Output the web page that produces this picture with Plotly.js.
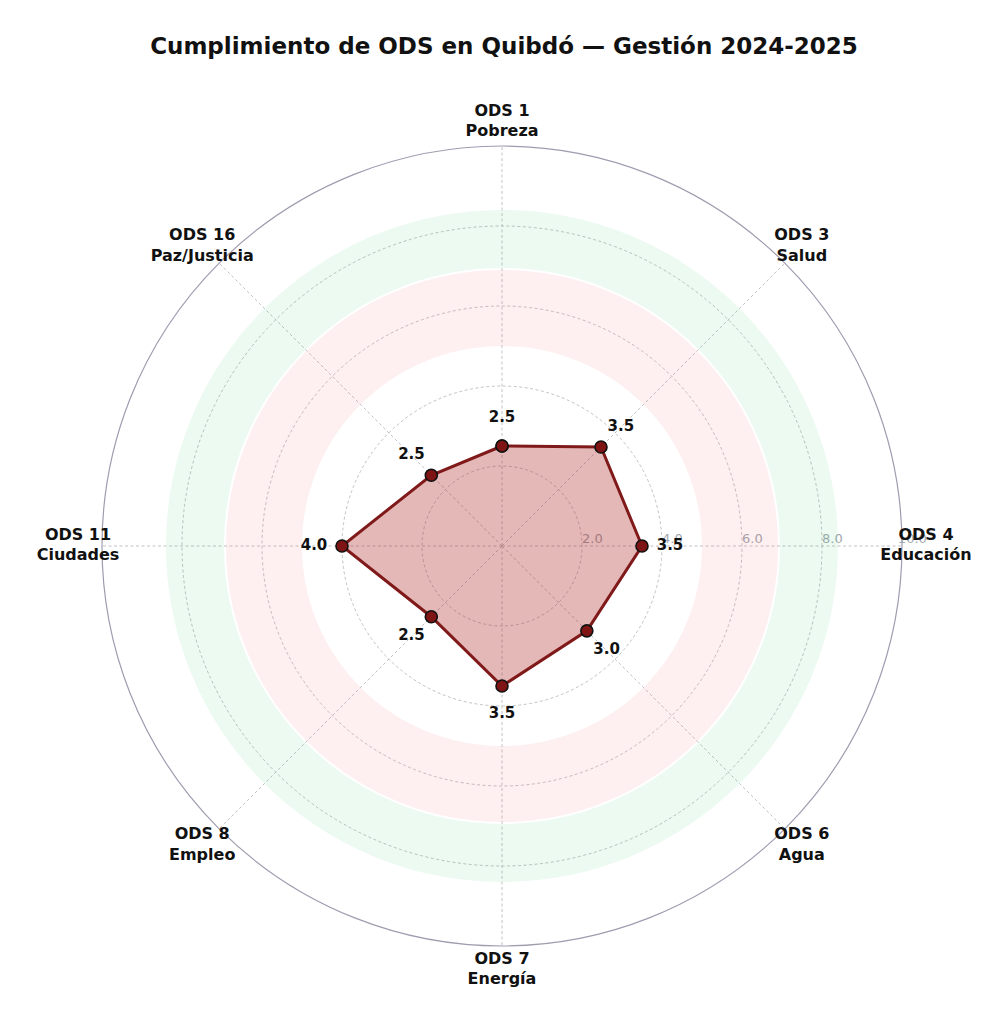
<!DOCTYPE html>
<html>
<head>
<meta charset="utf-8">
<script src="https://cdn.plot.ly/plotly-3.0.1.min.js"></script>
<style>html,body{margin:0;padding:0;background:#fff;}#chart{width:1008px;height:1024px;}</style>
</head>
<body>
<div id="chart"></div>
<script>
// ---- data ----
const categories = ['ODS 1', 'ODS 3', 'ODS 4', 'ODS 6', 'ODS 7', 'ODS 8', 'ODS 11', 'ODS 16'];
const categoryNames = ['Pobreza', 'Salud', 'Educación', 'Agua', 'Energía', 'Empleo', 'Ciudades', 'Paz/Justicia'];
const scores = [2.5, 3.5, 3.5, 3.0, 3.5, 2.5, 4.0, 2.5];
const pinkBand = [5.0, 6.9];     // inner, outer
const greenBand = [6.95, 8.4];   // inner, outer
const radialTicks = [2, 4, 6, 8, 10];
const titleText = 'Cumplimiento de ODS en Quibdó — Gestión 2024-2025';

// ---- layout constants ----
const FONT = 'DejaVu Sans, Verdana, sans-serif';
const W = 1008, H = 1024;
const CX = 502, CY = 546, PX_PER_UNIT = 40;
const R_MAX = 10, LABEL_RANGE = 11;
const labelOffset = 0.7;
const catLabelR = 10.6;
const NB = '\u00a0';

function domainFor(rangeMax) {
  const rad = rangeMax * PX_PER_UNIT;
  return {
    x: [(CX - rad) / W, (CX + rad) / W],
    y: [(H - CY - rad) / H, (H - CY + rad) / H]
  };
}

const closedCats = categories.concat([categories[0]]);
const closedScores = scores.concat([scores[0]]);

const traces = [
  {
    type: 'barpolar',
    theta: categories,
    base: categories.map(() => pinkBand[0]),
    r: categories.map(() => pinkBand[1] - pinkBand[0]),
    marker: {color: 'rgba(240,90,90,0.09)', line: {width: 0}},
    hoverinfo: 'skip', showlegend: false
  },
  {
    type: 'barpolar',
    theta: categories,
    base: categories.map(() => greenBand[0]),
    r: categories.map(() => greenBand[1] - greenBand[0]),
    marker: {color: 'rgba(40,200,100,0.09)', line: {width: 0}},
    hoverinfo: 'skip', showlegend: false
  },
  {
    type: 'scatterpolar',
    theta: closedCats,
    r: closedScores,
    mode: 'lines+markers',
    fill: 'toself',
    fillcolor: 'rgba(170,20,20,0.30)',
    line: {color: '#801a1a', width: 3},
    marker: {size: 12, color: '#7f1414', line: {color: '#111111', width: 1.6}},
    showlegend: false
  },
  {
    type: 'scatterpolar',
    theta: categories,
    r: scores.map(v => v + labelOffset),
    mode: 'text',
    text: scores.map(v => v.toFixed(1)),
    textposition: 'middle center',
    textfont: {family: FONT, size: 15, color: '#111111', weight: 'bold'},
    cliponaxis: false,
    hoverinfo: 'skip', showlegend: false
  },
  {
    type: 'scatterpolar',
    subplot: 'polar2',
    theta: categories,
    r: categories.map(() => catLabelR),
    mode: 'text',
    text: categories.map((c, i) => c + '<br>' + categoryNames[i]),
    textposition: 'middle center',
    textfont: {family: FONT, size: 16, color: '#111111', weight: 'bold'},
    cliponaxis: false,
    hoverinfo: 'skip', showlegend: false
  }
];

const hiddenAxis = {showline: false, showgrid: false, showticklabels: false, ticks: ''};

const layout = {
  width: W, height: H,
  margin: {l: 0, r: 0, t: 0, b: 0},
  paper_bgcolor: '#ffffff',
  showlegend: false,
  title: {
    text: titleText,
    font: {family: FONT, size: 23, color: '#111111', weight: 'bold'},
    x: 0.5, xanchor: 'center', y: 1 - 46 / H, yanchor: 'middle', yref: 'container'
  },
  polar: {
    domain: domainFor(R_MAX),
    bgcolor: 'rgba(0,0,0,0)',
    bargap: 0,
    radialaxis: {
      range: [0, R_MAX],
      angle: 0,
      side: 'counterclockwise',
      tickvals: radialTicks,
      ticktext: radialTicks.map(v => NB + NB + NB + NB + NB + v.toFixed(1)),
      ticks: '',
      showline: false,
      tickfont: {family: FONT, size: 13, color: '#a3a8b0'},
      gridcolor: '#c2c2c8',
      griddash: '3px,2.5px',
      gridwidth: 1,
      layer: 'below traces'
    },
    angularaxis: {
      type: 'category',
      categoryorder: 'array',
      categoryarray: categories,
      direction: 'clockwise',
      rotation: 90,
      showticklabels: false,
      ticks: '',
      showline: true,
      linecolor: '#a09cb0',
      linewidth: 1.2,
      gridcolor: '#c2c2c8',
      griddash: '3px,2.5px',
      gridwidth: 1,
      layer: 'below traces'
    }
  },
  polar2: {
    domain: domainFor(LABEL_RANGE),
    bgcolor: 'rgba(0,0,0,0)',
    radialaxis: Object.assign({range: [0, LABEL_RANGE]}, hiddenAxis),
    angularaxis: Object.assign({
      type: 'category',
      categoryorder: 'array',
      categoryarray: categories,
      direction: 'clockwise',
      rotation: 90
    }, hiddenAxis)
  }
};

Plotly.newPlot('chart', traces, layout, {displayModeBar: false, staticPlot: true});
</script>
</body>
</html>
